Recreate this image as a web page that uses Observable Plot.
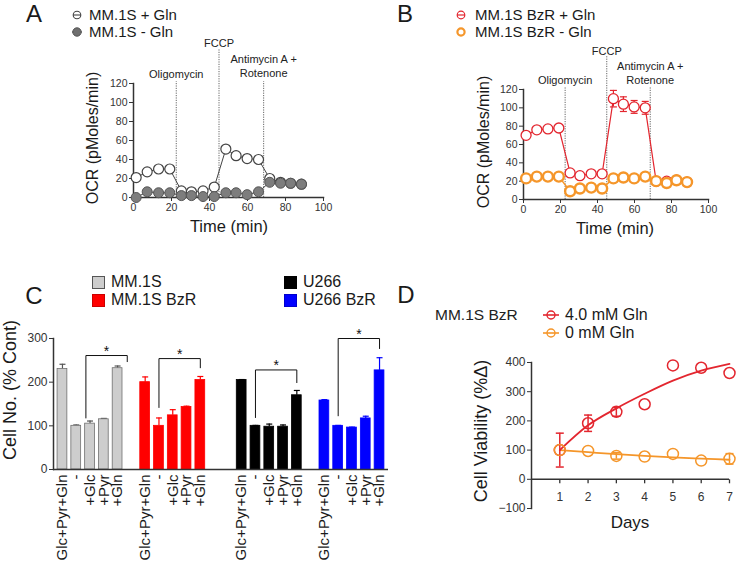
<!DOCTYPE html>
<html><head><meta charset="utf-8">
<script src="https://cdn.jsdelivr.net/npm/d3@7"></script>
<script src="https://cdn.jsdelivr.net/npm/@observablehq/plot@0.6"></script>
<style>
html,body{margin:0;padding:0;background:#fff;}
#fig{position:relative;width:745px;height:573px;overflow:hidden;font-family:"Liberation Sans",Arial,Helvetica,sans-serif;color:#1a1a1a;}
.t{position:absolute;white-space:nowrap;line-height:1;}
</style></head>
<body><div id="fig"></div>
<script>
// ================= DATA =================
// Panels A & B: Seahorse OCR time course
const times = [1.4, 7.2, 13.2, 19.1, 25.2, 30.5, 36.6, 42.5, 48.6, 54.0, 59.8, 65.8, 71.7, 77.4, 82.7, 88.4];
const ocrMM1SPlusGln  = [21, 27, 30, 30, 7, 6, 7, 11, 51, 44, 41, 40, 20, 16, 15, 14];
const ocrMM1SMinusGln = [0, 6, 5, 5, 2, 2, 1, 1, 5, 5, 3, 6, 16, 15, 15, 14];
const ocrBzRPlusGln    = [70, 76, 77, 78, 29, 26, 28, 28, 110, 104, 101, 100, 20, 20, 21, 19];
const ocrBzRPlusGlnErr = [0, 0, 0, 0, 3, 0, 0, 0, 9, 8, 7, 7, 0, 0, 0, 0];
const ocrBzRMinusGln   = [23, 25, 25, 25, 9, 12, 13, 12, 23, 24, 23, 25, 20, 18, 21, 19];
const drugNames = ["Oligomycin", "FCCP", "Antimycin A +\nRotenone"];
const drugTimes = [22.5, 45, 68.5];
const ocrTicksY = [0, 20, 40, 60, 80, 100, 120];
const ocrTicksX = [0, 20, 40, 60, 80, 100];

// Panel C: cell number bars
const treatments = ["Glc+Pyr+Gln", "-", "+Glc", "+Pyr", "+Gln"];
const cellLines = ["MM.1S", "MM.1S BzR", "U266", "U266 BzR"];
const cellNoMM1S       = [230, 100, 105, 115, 232];
const cellNoMM1SErr    = [11, 2, 6, 2, 5];
const cellNoMM1SBzR    = [200, 100, 124, 143, 205];
const cellNoMM1SBzRErr = [12, 18, 13, 2, 8];
const cellNoU266       = [205, 100, 98, 98, 170];
const cellNoU266Err    = [1, 1, 6, 4, 11];
const cellNoU266BzR    = [158, 100, 96, 117, 227];
const cellNoU266BzRErr = [2, 1, 1, 5, 29];
const groupStartSlot = [0, 6, 13, 19];
const cellNoTicks = [0, 100, 200, 300];
const sigBracketTop   = [261, 254, 228, 300];
const sigBracketLeft  = [118, 142, 119, 123];
const sigBracketRight = [247, 233, 199, 277];
const sigBracketFrom  = [1.7, 1, 1, 1];
const sigBracketTo    = [4.7, 4, 4, 4];

// Panel D: cell viability over days
const days = [1, 2, 3, 4, 5, 6, 7];
const viab4mM    = [100, 192, 231, 257, 390, 382, 364];
const viab4mMErr = [58, 28, 15, 0, 0, 0, 0];
const viab0mM    = [100, 97, 80, 78, 87, 64, 70];
const viab0mMErr = [0, 0, 11, 0, 0, 0, 18];
const fit4mM = [100, 185, 243, 293, 338, 372, 395];
const fit0mM = [100, 93, 86, 80, 75, 71, 67];
const viabTicksY = [-100, 0, 100, 200, 300, 400];

// ================= STYLE =================
const RED = "#e3262f", ORANGE = "#f5962a";
const cellColors = ["#cdcdcd", "#ff0000", "#000000", "#0000ff"];
const FONT = '"Liberation Sans", Arial, Helvetica, sans-serif';
const baseStyle = {background: "transparent", fontFamily: FONT, fontSize: "11px", color: "#333", overflow: "visible"};
const capSymbol = {draw(ctx, size) { const r = Math.sqrt(size / Math.PI); ctx.moveTo(-r, 0); ctx.lineTo(r, 0); }};
const tickDownSymbol = {draw(ctx, size) { const r = Math.sqrt(size / Math.PI); ctx.moveTo(0, 0); ctx.lineTo(0, r); }};

const fig = document.getElementById("fig");
function place(node, left, top) {
  node.style.position = "absolute"; node.style.left = left + "px"; node.style.top = top + "px";
  node.style.maxWidth = "none";
  fig.appendChild(node);
}
function txt(s, x, y, {size = 15, anchor = "start", rotate = 0, color = "#1a1a1a", lh = 1} = {}) {
  const d = document.createElement("div");
  d.className = "t"; d.textContent = s;
  const tx = anchor === "middle" ? "-50%" : anchor === "end" ? "-100%" : "0";
  d.style.cssText += `left:${x}px;top:${y}px;font-size:${size}px;line-height:${lh};color:${color};transform:translate(${tx},-50%) rotate(${rotate}deg);`;
  fig.appendChild(d);
}
function marker(cx, cy, inner) {
  const s = document.createElementNS("http://www.w3.org/2000/svg", "svg");
  s.setAttribute("width", 24); s.setAttribute("height", 16);
  s.style.cssText = `position:absolute;left:${cx - 12}px;top:${cy - 8}px;overflow:visible;`;
  s.innerHTML = inner;
  fig.appendChild(s);
}
function box(x, y, color, stroke) {
  const d = document.createElement("div");
  d.style.cssText = `position:absolute;left:${x}px;top:${y}px;width:11px;height:11px;background:${color};border:1px solid ${stroke};`;
  fig.appendChild(d);
}

// ================= PANELS A & B =================
const drugs = drugNames.map((name, i) => ({name, t: drugTimes[i]}));
const drugLineTop = [122, 156, 122];
const drugLabelY = [131, 163, 139];

function ocrPlot(margins, seriesMarks) {
  return Plot.plot({
    width: 370, height: 230, ...margins,
    x: {domain: [0, 100]}, y: {domain: [0, 120]},
    style: baseStyle,
    marks: [
      Plot.ruleX(drugs, {x: "t", y1: 0, y2: (d, i) => drugLineTop[i], stroke: "#555", strokeWidth: 0.9, strokeDasharray: "1.2,1.2"}),
      Plot.text(drugs, {x: "t", y: (d, i) => drugLabelY[i], text: "name", fontSize: 11, lineHeight: 1.27, fill: "#222"}),
      Plot.axisY({ticks: ocrTicksY, tickSize: 4, tickPadding: 2, fontSize: 10.5, label: null}),
      Plot.axisX({ticks: ocrTicksX, tickSize: 4, tickPadding: 2, fontSize: 10.5, label: null}),
      Plot.frame({anchor: "left", stroke: "#333", strokeWidth: 1.5}),
      Plot.frame({anchor: "bottom", stroke: "#333", strokeWidth: 1.5}),
      ...seriesMarks
    ]
  });
}

const ocrA = times.map((t, i) => ({t, plus: ocrMM1SPlusGln[i], minus: ocrMM1SMinusGln[i]}));
place(ocrPlot({marginLeft: 133, marginRight: 47, marginTop: 83, marginBottom: 33}, [
  Plot.line(ocrA, {x: "t", y: "plus", stroke: "#444", strokeWidth: 1}),
  Plot.line(ocrA, {x: "t", y: "minus", stroke: "#444", strokeWidth: 1}),
  Plot.dot(ocrA, {x: "t", y: "plus", r: 5, fill: "white", stroke: "#444", strokeWidth: 1.2}),
  Plot.dot(ocrA, {x: "t", y: "minus", r: 5, fill: "#7d7d7d", stroke: "#555", strokeWidth: 1})
]), 0, 0);

const ocrB = times.map((t, i) => ({t, plus: ocrBzRPlusGln[i], err: ocrBzRPlusGlnErr[i], minus: ocrBzRMinusGln[i]}));
const ocrBErr = ocrB.filter(d => d.err > 0);
place(ocrPlot({marginLeft: 148, marginRight: 37, marginTop: 89, marginBottom: 31}, [
  Plot.line(ocrB, {x: "t", y: "plus", stroke: RED, strokeWidth: 1.2}),
  Plot.ruleX(ocrBErr, {x: "t", y1: d => d.plus - d.err, y2: d => d.plus + d.err, stroke: RED, strokeWidth: 1.2}),
  Plot.dot(ocrBErr, {x: "t", y: d => d.plus + d.err, symbol: capSymbol, r: 3.5, fill: "none", stroke: RED, strokeWidth: 1.2}),
  Plot.dot(ocrBErr, {x: "t", y: d => d.plus - d.err, symbol: capSymbol, r: 3.5, fill: "none", stroke: RED, strokeWidth: 1.2}),
  Plot.dot(ocrB, {x: "t", y: "plus", r: 5, fill: "white", stroke: RED, strokeWidth: 1.3}),
  Plot.line(ocrB, {x: "t", y: "minus", stroke: ORANGE, strokeWidth: 1.5}),
  Plot.dot(ocrB, {x: "t", y: "minus", r: 5, fill: "white", stroke: ORANGE, strokeWidth: 2.4})
]), 375, 0);

// ================= PANEL C =================
const cellVals = [cellNoMM1S, cellNoMM1SBzR, cellNoU266, cellNoU266BzR];
const cellErrs = [cellNoMM1SErr, cellNoMM1SBzRErr, cellNoU266Err, cellNoU266BzRErr];
const bars = cellLines.flatMap((line, g) => treatments.map((tr, k) => ({
  line, g, tr, slot: groupStartSlot[g] + k, v: cellVals[g][k], e: cellErrs[g][k]
})));
const slotLabel = new Map(bars.map(d => [d.slot, d.tr]));
const brackets = cellLines.flatMap((line, g) => {
  const a = groupStartSlot[g] + sigBracketFrom[g], b = groupStartSlot[g] + sigBracketTo[g];
  return [
    {g, x: a, y: sigBracketLeft[g]}, {g, x: a, y: sigBracketTop[g]},
    {g, x: b, y: sigBracketTop[g]}, {g, x: b, y: sigBracketRight[g]}
  ];
});
const stars = cellLines.map((line, g) => ({
  x: groupStartSlot[g] + (sigBracketFrom[g] + sigBracketTo[g]) / 2, y: sigBracketTop[g]
}));
const errColor = d => d.g === 0 ? "#555" : cellColors[d.g];
place(Plot.plot({
  width: 390, height: 250, marginLeft: 53, marginRight: 2, marginTop: 18, marginBottom: 101,
  x: {domain: [-0.65, 23.65]}, y: {domain: [0, 300]},
  style: baseStyle,
  marks: [
    Plot.ruleX(bars, {x: "slot", y1: "v", y2: d => d.v + d.e, stroke: errColor, strokeWidth: 1.2}),
    Plot.dot(bars, {x: "slot", y: d => d.v + d.e, symbol: capSymbol, r: 3, fill: "none", stroke: errColor, strokeWidth: 1.2}),
    Plot.rectY(bars, {x1: d => d.slot - 0.5, x2: d => d.slot + 0.5, y: "v", insetLeft: 2, insetRight: 2,
      fill: d => cellColors[d.g], stroke: d => d.g === 0 ? "#707070" : cellColors[d.g], strokeWidth: 0.8}),
    Plot.line(brackets, {x: "x", y: "y", z: "g", stroke: "#111", strokeWidth: 1}),
    Plot.text(stars, {x: "x", y: "y", text: () => "*", dy: -4, fontSize: 14, fill: "#111"}),
    Plot.axisY({ticks: cellNoTicks, tickSize: 4, tickPadding: 2, fontSize: 12, label: null}),
    Plot.axisX({ticks: bars.map(d => d.slot), tickFormat: s => slotLabel.get(s), tickRotate: -90,
      tickSize: 0, tickPadding: 5, fontSize: 15, fill: "#1a1a1a", label: null}),
    Plot.frame({anchor: "left", stroke: "#333", strokeWidth: 1.5}),
    Plot.ruleY([0], {stroke: "#333", strokeWidth: 1.5})
  ]
}), 0, 320);

// ================= PANEL D =================
const vRows = days.map((day, i) => ({day, hi: viab4mM[i], hiErr: viab4mMErr[i], lo: viab0mM[i], loErr: viab0mMErr[i], fitHi: fit4mM[i], fitLo: fit0mM[i]}));
const hiErr = vRows.filter(d => d.hiErr > 0), loErr = vRows.filter(d => d.loErr > 0);
place(Plot.plot({
  width: 370, height: 230, marginLeft: 156, marginRight: 16, marginTop: 22, marginBottom: 62,
  x: {domain: [0, 7], axis: null}, y: {domain: [-100, 400]},
  style: baseStyle,
  marks: [
    Plot.axisY({ticks: viabTicksY, tickSize: 4, tickPadding: 2, fontSize: 12, label: null}),
    Plot.frame({anchor: "left", stroke: "#333", strokeWidth: 1.5}),
    Plot.ruleY([0], {stroke: "#333", strokeWidth: 1.5}),
    Plot.dot(days, {x: d => d, y: () => 0, symbol: tickDownSymbol, r: 4, fill: "none", stroke: "#333", strokeWidth: 1.3}),
    Plot.text(days, {x: d => d, y: () => 0, dy: 18, text: d => String(d), fontSize: 12, fill: "#333"}),
    Plot.line(vRows, {x: "day", y: "fitLo", stroke: ORANGE, strokeWidth: 1.8, curve: "monotone-x"}),
    Plot.line(vRows, {x: "day", y: "fitHi", stroke: RED, strokeWidth: 1.8, curve: "monotone-x"}),
    Plot.ruleX(hiErr, {x: "day", y1: d => d.hi - d.hiErr, y2: d => d.hi + d.hiErr, stroke: RED, strokeWidth: 1.5}),
    Plot.dot(hiErr, {x: "day", y: d => d.hi + d.hiErr, symbol: capSymbol, r: 4, fill: "none", stroke: RED, strokeWidth: 1.5}),
    Plot.dot(hiErr, {x: "day", y: d => d.hi - d.hiErr, symbol: capSymbol, r: 4, fill: "none", stroke: RED, strokeWidth: 1.5}),
    Plot.ruleX(loErr, {x: "day", y1: d => d.lo - d.loErr, y2: d => d.lo + d.loErr, stroke: ORANGE, strokeWidth: 1.5}),
    Plot.dot(loErr, {x: "day", y: d => d.lo + d.loErr, symbol: capSymbol, r: 4, fill: "none", stroke: ORANGE, strokeWidth: 1.5}),
    Plot.dot(loErr, {x: "day", y: d => d.lo - d.loErr, symbol: capSymbol, r: 4, fill: "none", stroke: ORANGE, strokeWidth: 1.5}),
    Plot.dot(vRows, {x: "day", y: "hi", r: 5.5, fill: "none", stroke: RED, strokeWidth: 1.5}),
    Plot.dot(vRows, {x: "day", y: "lo", r: 5.5, fill: "none", stroke: ORANGE, strokeWidth: 1.5})
  ]
}), 375, 340);

// ================= TEXT, LEGENDS =================
txt("A", 34, 14, {size: 24, anchor: "middle"});
txt("B", 405, 14, {size: 24, anchor: "middle"});
txt("C", 34, 296, {size: 24, anchor: "middle"});
txt("D", 406, 295, {size: 24, anchor: "middle"});

// Panel A legend
marker(76.5, 14.5, `<circle cx="12" cy="8" r="3.8" fill="none" stroke="#444" stroke-width="1.1"/><line x1="8" x2="16" y1="8" y2="8" stroke="#444" stroke-width="1.1"/>`);
marker(76.5, 32, `<line x1="7" x2="17" y1="8" y2="8" stroke="#444" stroke-width="1.1"/><circle cx="12" cy="8" r="4.2" fill="#6f6f6f" stroke="#555" stroke-width="1"/>`);
txt("MM.1S + Gln", 89, 14.5, {size: 15, lh: 0.85});
txt("MM.1S - Gln", 89, 32, {size: 15, lh: 0.85});
// Panel B legend
marker(461, 14.5, `<circle cx="12" cy="8" r="3.8" fill="none" stroke="${RED}" stroke-width="1.2"/><line x1="8" x2="16" y1="8" y2="8" stroke="${RED}" stroke-width="1.2"/>`);
marker(461, 32, `<circle cx="12" cy="8" r="3.6" fill="none" stroke="${ORANGE}" stroke-width="2.2"/>`);
txt("MM.1S BzR + Gln", 475, 14.5, {size: 15, lh: 0.85});
txt("MM.1S BzR - Gln", 475, 32, {size: 15, lh: 0.85});

// Axis titles A & B
txt("OCR (pMoles/min)", 93, 138, {size: 16, anchor: "middle", rotate: -90});
txt("Time (min)", 229, 226, {size: 16.5, anchor: "middle"});
txt("OCR (pMoles/min)", 484, 142, {size: 16, anchor: "middle", rotate: -90});
txt("Time (min)", 615, 228, {size: 16.5, anchor: "middle"});

// Panel C legend
box(92, 276, cellColors[0], "#555");
box(92, 294, cellColors[1], "#c00");
box(284, 276, cellColors[2], "#000");
box(284, 294, cellColors[3], "#00c");
txt(cellLines[0], 111, 282, {size: 16, lh: 0.9});
txt(cellLines[1], 111, 300, {size: 16, lh: 0.9});
txt(cellLines[2], 303, 282, {size: 16, lh: 0.9});
txt(cellLines[3], 303, 300, {size: 16, lh: 0.9});
txt("Cell No. (% Cont)", 10, 390, {size: 18, anchor: "middle", rotate: -90});

// Panel D legend & titles
txt("MM.1S BzR", 435, 315, {size: 15.5, color: "#222", lh: 0.9});
marker(550.5, 315, `<line x1="4" x2="20" y1="8" y2="8" stroke="${RED}" stroke-width="1.6"/><circle cx="12" cy="8" r="4" fill="none" stroke="${RED}" stroke-width="1.4"/>`);
marker(550.5, 333, `<line x1="4" x2="20" y1="8" y2="8" stroke="${ORANGE}" stroke-width="1.6"/><circle cx="12" cy="8" r="4" fill="none" stroke="${ORANGE}" stroke-width="1.4"/>`);
txt("4.0 mM Gln", 565, 315, {size: 16, lh: 0.9});
txt("0 mM Gln", 565, 333, {size: 16, lh: 0.9});
txt("Cell Viability (%\u0394)", 481, 431, {size: 18, anchor: "middle", rotate: -90});
txt("Days", 630, 522, {size: 17, anchor: "middle"});
</script></body></html>
